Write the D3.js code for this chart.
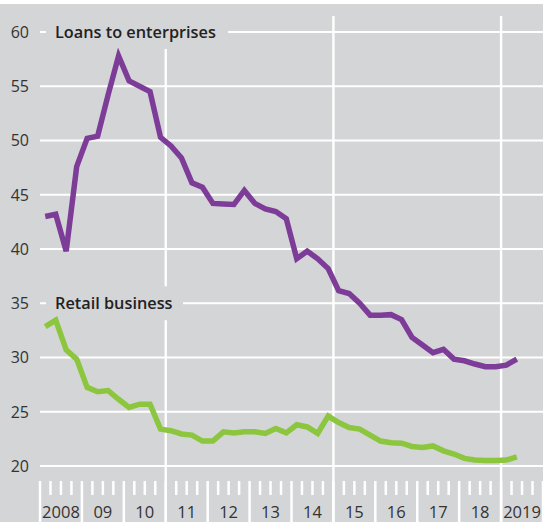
<!DOCTYPE html>
<meta charset="utf-8">
<script src="https://cdn.jsdelivr.net/npm/d3@7"></script>
<style>
  body { margin: 0; background: #fff; }
  text { font-family: "Open Sans", sans-serif; fill: #333; }
</style>
<body>
<script>

var width = 544
var height = 522

// quarterly observations, 2008 Q1 to 2019 Q2
var quarters = [
  "2008Q1","2008Q2","2008Q3","2008Q4","2009Q1","2009Q2","2009Q3","2009Q4",
  "2010Q1","2010Q2","2010Q3","2010Q4","2011Q1","2011Q2","2011Q3","2011Q4",
  "2012Q1","2012Q2","2012Q3","2012Q4","2013Q1","2013Q2","2013Q3","2013Q4",
  "2014Q1","2014Q2","2014Q3","2014Q4","2015Q1","2015Q2","2015Q3","2015Q4",
  "2016Q1","2016Q2","2016Q3","2016Q4","2017Q1","2017Q2","2017Q3","2017Q4",
  "2018Q1","2018Q2","2018Q3","2018Q4","2019Q1","2019Q2"
]

var loans = [
  43.0, 43.2, 39.8, 47.6, 50.2, 50.4, 54.2, 57.8,
  55.5, 55.0, 54.5, 50.3, 49.5, 48.4, 46.1, 45.7,
  44.2, 44.15, 44.1, 45.4, 44.2, 43.7, 43.45, 42.8,
  39.1, 39.8, 39.1, 38.2, 36.15, 35.9, 35.0, 33.9,
  33.9, 33.95, 33.5, 31.85, 31.15, 30.45, 30.75, 29.85,
  29.7, 29.4, 29.15, 29.15, 29.3, 29.85
]

var retail = [
  32.85, 33.45, 30.7, 29.85, 27.25, 26.85, 26.95, 26.15,
  25.4, 25.7, 25.7, 23.4, 23.25, 22.95, 22.85, 22.3,
  22.3, 23.15, 23.05, 23.15, 23.15, 23.0, 23.45, 23.05,
  23.8, 23.6, 23.0, 24.6, 24.0, 23.55, 23.4, 22.85,
  22.3, 22.15, 22.1, 21.8, 21.7, 21.85, 21.4, 21.1,
  20.7, 20.55, 20.5, 20.5, 20.55, 20.85
]

var yTicks = [20, 25, 30, 35, 40, 45, 50, 55, 60]
var years = [2008, 2009, 2010, 2011, 2012, 2013, 2014, 2015, 2016, 2017, 2018, 2019]
var yearLabels = ["2008", "09", "10", "11", "12", "13", "14", "15", "16", "17", "18", "2019"]
var yearGrid = [2011, 2015, 2019]

var series = [
  { name: "Loans to enterprises", values: loans, color: "#7d3c98", labelAt: 60, labelW: 182 },
  { name: "Retail business", values: retail, color: "#8cc63f", labelAt: 35, labelW: 137 }
]

function qDate(q) {
  return +q.slice(0, 4) + (+q.slice(5) - 0.5) / 4
}

var x = d3.scaleLinear().domain([2008, 2020]).range([40, 543])
var y = d3.scaleLinear().domain([20, 60]).range([466, 32])

var svg = d3.select("body").append("svg")
  .attr("width", width)
  .attr("height", height)
  .style("display", "block")

svg.append("rect")
  .attr("x", 0).attr("y", 4)
  .attr("width", 543).attr("height", height - 4)
  .attr("fill", "#d4d5d7")

// horizontal grid
svg.append("g").selectAll("line")
  .data(yTicks).join("line")
  .attr("x1", 40).attr("x2", 543)
  .attr("y1", d => y(d)).attr("y2", d => y(d))
  .attr("stroke", "#fff").attr("stroke-width", 2.2)

// vertical grid at 2011, 2015, 2019
svg.append("g").selectAll("line")
  .data(yearGrid).join("line")
  .attr("x1", d => x(d)).attr("x2", d => x(d))
  .attr("y1", 16).attr("y2", height)
  .attr("stroke", "#fff").attr("stroke-width", 2.4)

// y tick labels
svg.append("g").selectAll("text")
  .data(yTicks).join("text")
  .attr("x", 29)
  .attr("y", d => y(d))
  .attr("dy", "0.36em")
  .attr("text-anchor", "end")
  .style("font-size", "16px")
  .text(d => d)

// x axis: quarter ticks, taller at year starts
var quarterTicks = d3.range(2008, 2020.01, 0.25)
svg.append("g").selectAll("line")
  .data(quarterTicks).join("line")
  .attr("x1", d => x(d)).attr("x2", d => x(d))
  .attr("y1", 481)
  .attr("y2", d => Number.isInteger(d) ? height : 495)
  .attr("stroke", "#fff").attr("stroke-width", 2.5)

svg.append("g").selectAll("text")
  .data(years).join("text")
  .attr("x", d => x(d + 0.5))
  .attr("y", 518)
  .attr("text-anchor", "middle")
  .style("font-size", "16.5px")
  .text((d, i) => yearLabels[i])

// series labels sit on a gridline with a backdrop that hides the grid
series.forEach(function(s) {
  var g = svg.append("g")
  g.append("rect")
    .attr("x", 46).attr("y", y(s.labelAt) - 17)
    .attr("width", s.labelW).attr("height", 34)
    .attr("fill", "#d4d5d7")
  g.append("text")
    .attr("x", 55)
    .attr("y", y(s.labelAt))
    .attr("dy", "0.36em")
    .style("font-size", "16.3px")
    .style("font-weight", 600)
    .style("fill", "#222")
    .text(s.name)
})

var line = d3.line()
  .x((d, i) => x(qDate(quarters[i])))
  .y(d => y(d))

svg.append("g").selectAll("path")
  .data(series).join("path")
  .attr("d", d => line(d.values))
  .attr("fill", "none")
  .attr("stroke", d => d.color)
  .attr("stroke-width", 5.5)
  .attr("stroke-linejoin", "miter")

</script>
</body>
